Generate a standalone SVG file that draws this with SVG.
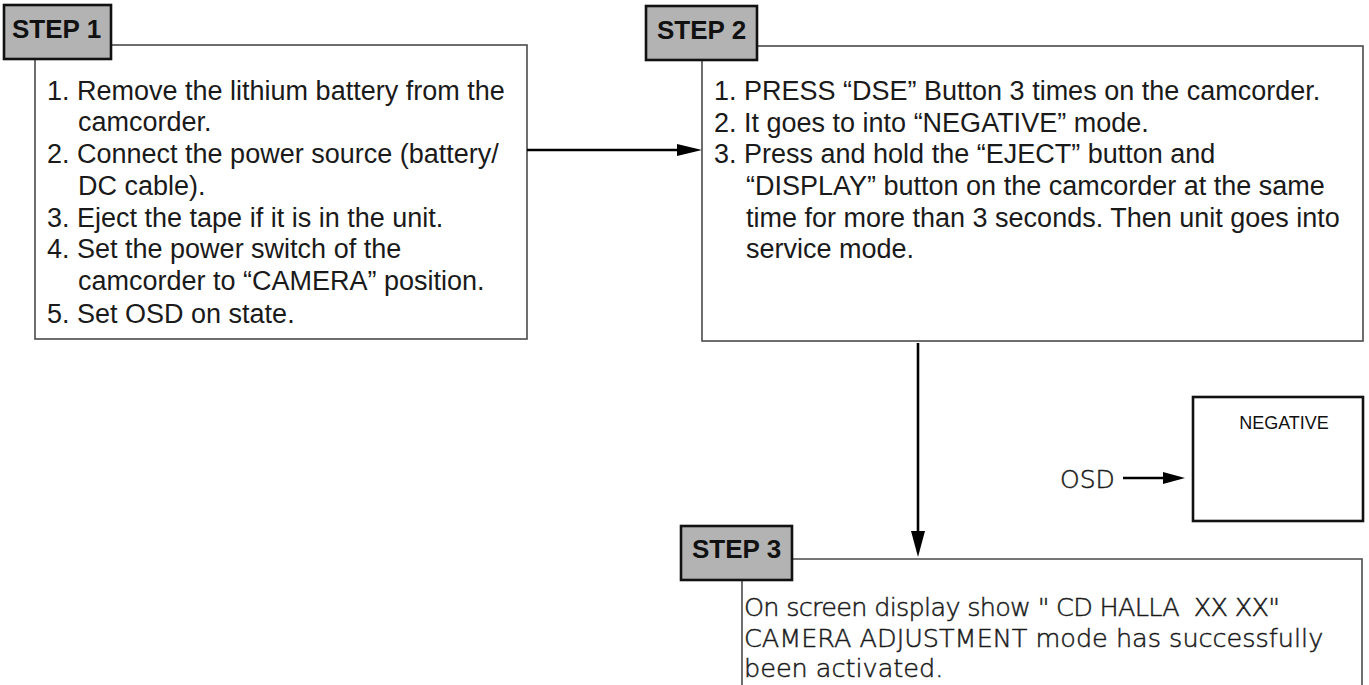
<svg xmlns="http://www.w3.org/2000/svg" width="1369" height="685" viewBox="0 0 1369 685">
<style>
.box{fill:#fff;stroke:#4a4a4a;stroke-width:1.6}
.tab{fill:#b3b3b3;stroke:#111;stroke-width:2.6}
.tabtxt{font-family:"Liberation Sans",Arial,sans-serif;font-weight:bold;font-size:26px;fill:#111}
.body{font-family:"Liberation Sans",Arial,sans-serif;font-size:27px;fill:#1a1a1a}
.light{font-family:"DejaVu Sans",sans-serif;font-weight:200;font-size:25.5px;fill:#1a1a1a;stroke:#1a1a1a;stroke-width:0.5;white-space:pre}
.conn{stroke:#000;stroke-width:2.6;fill:none}
.head{fill:#000}
</style>
<rect width="1369" height="685" fill="#fff"/>
<g id="step1">
<rect class="box" x="35" y="45" width="492" height="294"/>
<rect class="tab" x="4" y="5" width="107" height="54"/>
<text class="tabtxt" x="12" y="38">STEP 1</text>
<text class="body" x="47" y="100">1. Remove the lithium battery from the</text>
<text class="body" x="78" y="131">camcorder.</text>
<text class="body" x="47" y="163">2. Connect the power source (battery/</text>
<text class="body" x="78" y="195">DC cable).</text>
<text class="body" x="47" y="227">3. Eject the tape if it is in the unit.</text>
<text class="body" x="47" y="258">4. Set the power switch of the</text>
<text class="body" x="78" y="290">camcorder to “CAMERA” position.</text>
<text class="body" x="47" y="323">5. Set OSD on state.</text>
</g>
<g id="step2">
<rect class="box" x="702" y="46" width="661" height="295"/>
<rect class="tab" x="646" y="6" width="111" height="54"/>
<text class="tabtxt" x="657" y="39">STEP 2</text>
<text class="body" x="714" y="100">1. PRESS “DSE” Button 3 times on the camcorder.</text>
<text class="body" x="714" y="132">2. It goes to into “NEGATIVE” mode.</text>
<text class="body" x="714" y="163">3. Press and hold the “EJECT” button and</text>
<text class="body" x="746" y="195">“DISPLAY” button on the camcorder at the same</text>
<text class="body" x="746" y="227">time for more than 3 seconds. Then unit goes into</text>
<text class="body" x="746" y="258">service mode.</text>
</g>
<g id="osd-screen">
<rect x="1193" y="397" width="170" height="124" fill="#fff" stroke="#111" stroke-width="2.6"/>
<text x="1284" y="429" text-anchor="middle" font-family="Liberation Sans, Arial, sans-serif" font-size="18" fill="#111">NEGATIVE</text>
</g>
<g id="osd-label">
<text class="light" x="1060" y="488" style="font-size:25px">OSD</text>
</g>
<g id="step3">
<path class="box" d="M742,700 V559 H1362 V700"/>
<rect class="tab" x="681" y="526" width="111" height="54"/>
<text class="tabtxt" x="692" y="558">STEP 3</text>
<text class="light" x="744" y="616" textLength="536">On screen display show " CD HALLA  XX XX"</text>
<text class="light" x="744" y="647">CAMERA ADJUSTMENT mode has successfully</text>
<text class="light" x="744" y="677">been activated.</text>
</g>
<g id="connectors">
<line class="conn" x1="527" y1="150" x2="680" y2="150"/>
<polygon class="head" points="702,150 677,144 677,156"/>
<line class="conn" x1="918" y1="343" x2="918" y2="536"/>
<polygon class="head" points="918,557 911,531 925,531"/>
<line class="conn" x1="1123" y1="478" x2="1165" y2="478"/>
<polygon class="head" points="1185,478 1163,472 1163,484"/>
</g>
</svg>
